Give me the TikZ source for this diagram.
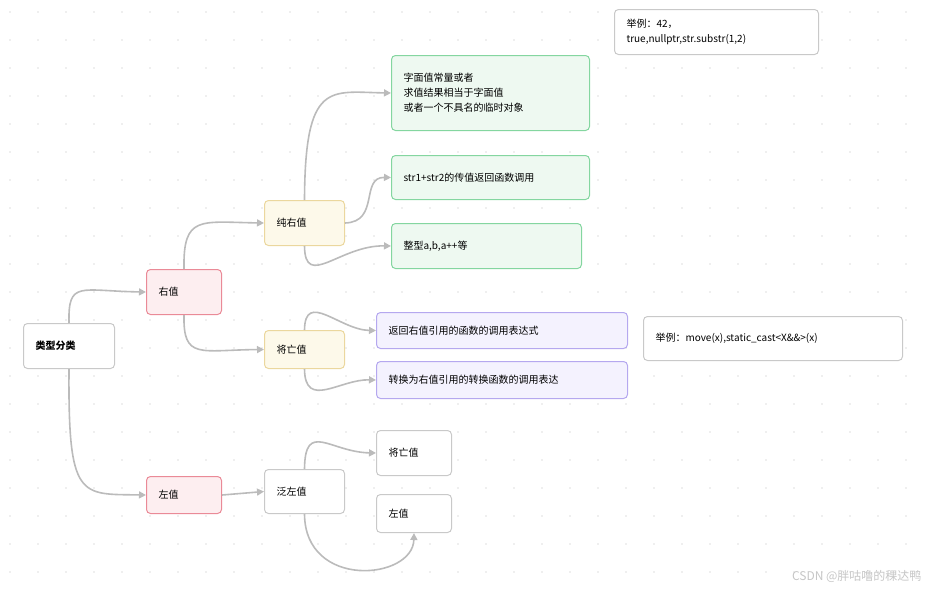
\documentclass[tikz,border=0pt]{standalone}
\usepackage{fontspec}
\setmainfont{Noto Sans CJK SC}
\usetikzlibrary{arrows.meta}
\definecolor{ln}{HTML}{BBBBBB}
\definecolor{pkd}{HTML}{EA8A97}\definecolor{pkf}{HTML}{FDEEF0}
\definecolor{yd}{HTML}{EBD79E}\definecolor{yf}{HTML}{FDF9EA}
\definecolor{gd}{HTML}{84D6A0}\definecolor{gf}{HTML}{EEF9F1}
\definecolor{pd}{HTML}{B5A8EF}\definecolor{pf}{HTML}{F4F2FE}
\tikzset{
 base/.style={draw, rounded corners=4pt, line width=1pt, anchor=north west, inner xsep=12pt, inner ysep=0pt, font=\fontsize{10}{15}\selectfont, align=left},
 plain/.style={base, draw=ln!80, fill=white},
 pinkb/.style={base, draw=pkd, fill=pkf},
 yelb/.style={base, draw=yd, fill=yf},
 grnb/.style={base, draw=gd, fill=gf},
 purb/.style={base, draw=pd, fill=pf},
 con/.style={draw=ln, line width=1.6pt, -{Triangle[length=7pt,width=7pt]}}
}
\begin{document}
\begin{tikzpicture}[x=1pt,y=-1pt]
\useasboundingbox (0,0) rectangle (928,590);
\foreach \i in {0,...,33} \foreach \j in {0,...,21} \fill[gray!25] (10+\i*28,12+\j*28) circle (0.8);
\node[plain,minimum width=91pt,minimum height=45pt,text width=67pt] (root) at (23,323) {\textbf{类型分类}};
\node[pinkb,minimum width=75pt,minimum height=45pt,text width=51pt] (r) at (146,269) {右值};
\node[pinkb,minimum width=75pt,minimum height=37pt,text width=51pt] (l) at (146,476) {左值};
\node[yelb,minimum width=80pt,minimum height=45pt,text width=56pt] (pr) at (264,200) {纯右值};
\node[yelb,minimum width=80pt,minimum height=38pt,text width=56pt] (xv) at (264,330) {将亡值};
\node[plain,minimum width=80pt,minimum height=44pt,text width=56pt] (gl) at (264,469) {泛左值};
\node[grnb,minimum width=198pt,minimum height=75pt,text width=174pt] (g1) at (391,55) {字面值常量或者\\求值结果相当于字面值\\或者一个不具名的临时对象};
\node[grnb,minimum width=198pt,minimum height=44pt,text width=174pt] (g2) at (391,155) {str1+str2的传值返回函数调用};
\node[grnb,minimum width=190pt,minimum height=45pt,text width=166pt] (g3) at (391,223) {整型a,b,a++等};
\node[purb,minimum width=251pt,minimum height=36pt,text width=227pt] (p1) at (376,312) {返回右值引用的函数的调用表达式};
\node[purb,minimum width=251pt,minimum height=37pt,text width=227pt] (p2) at (376,361) {转换为右值引用的转换函数的调用表达};
\node[plain,minimum width=75pt,minimum height=45pt,text width=51pt] (w1) at (376,430) {将亡值};
\node[plain,minimum width=75pt,minimum height=38pt,text width=51pt] (w2) at (376,494) {左值};
\node[plain,minimum width=204pt,minimum height=45pt,text width=180pt] (n1) at (614,9) {举例：42，\\true,nullptr,str.substr(1,2)};
\node[plain,minimum width=259pt,minimum height=44pt,text width=235pt] (n2) at (643,316) {举例：move(x),static\_cast<X\&\&>(x)};
\node[anchor=south east,text=gray!45,font=\fontsize{12}{14}\selectfont] (wm) at (925,586) {CSDN @胖咕噜的稞达鸭};
\draw[con] (root.north) .. controls (68,280) and (80,291) .. (r.west);
\draw[con] (root.south) .. controls (68,500) and (80,494) .. (l.west);
\draw[con] (r.north) .. controls (183,215) and (200,222) .. (pr.west);
\draw[con] (r.south) .. controls (183,360) and (200,350) .. (xv.west);
\draw[con] (pr.north) .. controls (305,80) and (330,92) .. (g1.west);
\draw[con] (pr.east) .. controls (380,222) and (360,177) .. (g2.west);
\draw[con] (pr.south) .. controls (305,290) and (340,245) .. (g3.west);
\draw[con] (xv.north) .. controls (305,290) and (340,330) .. (p1.west);
\draw[con] (xv.south) .. controls (305,410) and (340,379) .. (p2.west);
\draw[con] (l.east) -- (gl.west);
\draw[con] (gl.north) .. controls (305,420) and (330,452) .. (w1.west);
\draw[con] (gl.south) .. controls (305,590) and (413,580) .. (w2.south);
\end{tikzpicture}
\end{document}
